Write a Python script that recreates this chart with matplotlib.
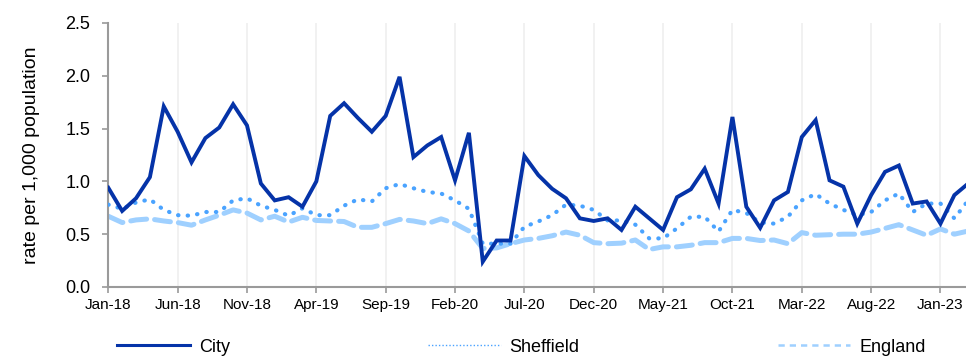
import matplotlib
matplotlib.use("Agg")
import matplotlib.pyplot as plt
from matplotlib.lines import Line2D

plt.rcParams['font.family'] = ['Liberation Sans', 'DejaVu Sans']

# Monthly values Jan-18 .. Mar-23 (rate per 1,000 population)
city = [0.94, 0.72, 0.84, 1.04, 1.71, 1.47, 1.18, 1.41, 1.51, 1.73,
        1.53, 0.98, 0.82, 0.85, 0.76, 1.00, 1.62, 1.74, 1.60, 1.47,
        1.62, 1.99, 1.23, 1.34, 1.42, 1.01, 1.46, 0.24, 0.44, 0.44,
        1.24, 1.06, 0.93, 0.84, 0.65, 0.625, 0.65, 0.54, 0.76, 0.65,
        0.54, 0.85, 0.925, 1.12, 0.79, 1.61, 0.76, 0.56, 0.82, 0.90,
        1.42, 1.58, 1.01, 0.95, 0.60, 0.87, 1.09, 1.15, 0.79, 0.81,
        0.60, 0.87, 0.98]
sheffield = [0.78, 0.74, 0.80, 0.83, 0.73, 0.68, 0.675, 0.71, 0.71, 0.82,
             0.84, 0.77, 0.73, 0.675, 0.745, 0.68, 0.68, 0.77, 0.83, 0.81,
             0.935, 0.975, 0.935, 0.90, 0.885, 0.82, 0.74, 0.41, 0.41, 0.41,
             0.57, 0.62, 0.68, 0.78, 0.77, 0.73, 0.63, 0.63, 0.59, 0.46,
             0.46, 0.555, 0.665, 0.665, 0.525, 0.73, 0.70, 0.61, 0.60, 0.665,
             0.82, 0.88, 0.79, 0.73, 0.68, 0.71, 0.82, 0.885, 0.71, 0.79,
             0.79, 0.65, 0.82]
england = [0.67, 0.61, 0.635, 0.645, 0.625, 0.61, 0.585, 0.635, 0.68, 0.73,
           0.70, 0.635, 0.67, 0.615, 0.66, 0.63, 0.625, 0.62, 0.565, 0.565,
           0.60, 0.64, 0.625, 0.60, 0.645, 0.60, 0.53, 0.365, 0.37, 0.41,
           0.445, 0.46, 0.485, 0.52, 0.49, 0.42, 0.41, 0.415, 0.445, 0.355,
           0.38, 0.38, 0.395, 0.42, 0.42, 0.46, 0.46, 0.44, 0.445, 0.41,
           0.515, 0.49, 0.495, 0.50, 0.50, 0.52, 0.555, 0.59, 0.54, 0.49,
           0.55, 0.50, 0.53]
tick_labels = ["Jan-18", "Jun-18", "Nov-18", "Apr-19", "Sep-19", "Feb-20",
               "Jul-20", "Dec-20", "May-21", "Oct-21", "Mar-22", "Aug-22",
               "Jan-23"]
tick_step = 5
y_ticks = [0.0, 0.5, 1.0, 1.5, 2.0, 2.5]
series_names = ["City", "Sheffield", "England"]

c_city = "#0533a8"
c_sheff = "#4aa3ff"
c_eng = "#9fd0ff"

fig = plt.figure(figsize=(9.66, 3.59), dpi=100)
ax = fig.add_axes([0.1121, 0.2006, 0.8902, 0.7354])

x = list(range(len(city)))
ax.plot(x, england, color=c_eng, lw=3.6, linestyle=(0, (3.2, 1.6)),
        solid_capstyle='round', dash_capstyle='round', zorder=2)
ax.plot(x, sheffield, color=c_sheff, lw=3.0, linestyle=(0, (0.1, 2.2)),
        dash_capstyle='round', zorder=3)
ax.plot(x, city, color=c_city, lw=2.8, solid_joinstyle='miter', zorder=4)

ax.set_xlim(0, len(city) - 1)
ax.set_ylim(0, 2.5)
ax.set_yticks(y_ticks)
ax.set_yticklabels([f"{v:.1f}" for v in y_ticks])
ticks = [i * tick_step for i in range(len(tick_labels))]
ax.set_xticks(ticks)
ax.set_xticklabels(tick_labels)

ax.grid(axis='x', color='#efefef', lw=1.2, zorder=0)
ax.set_axisbelow(True)
for s in ['top', 'right']:
    ax.spines[s].set_visible(False)
for s in ['left', 'bottom']:
    ax.spines[s].set_color('#9a9a9a')
    ax.spines[s].set_linewidth(1.5)
ax.tick_params(axis='both', colors='#9a9a9a', length=4, width=1.2,
               labelcolor='black')
ax.tick_params(axis='y', pad=9, labelsize=13)
ax.tick_params(axis='x', pad=4, labelsize=11)

ax.set_ylabel("rate per 1,000 population", fontsize=14, labelpad=18)

handles = [Line2D([], [], color=c_city, lw=2.2),
           Line2D([], [], color=c_sheff, lw=1.0, linestyle=(0, (1, 1.5))),
           Line2D([], [], color=c_eng, lw=1.8, linestyle=(0, (2.5, 2)))]
fig.legend(handles, series_names, loc='center', bbox_to_anchor=(0.54, 0.033),
           ncol=3, frameon=False, fontsize=13, handlelength=4.0,
           handletextpad=0.5, columnspacing=11.0)

fig.savefig("out.png", dpi=100)
